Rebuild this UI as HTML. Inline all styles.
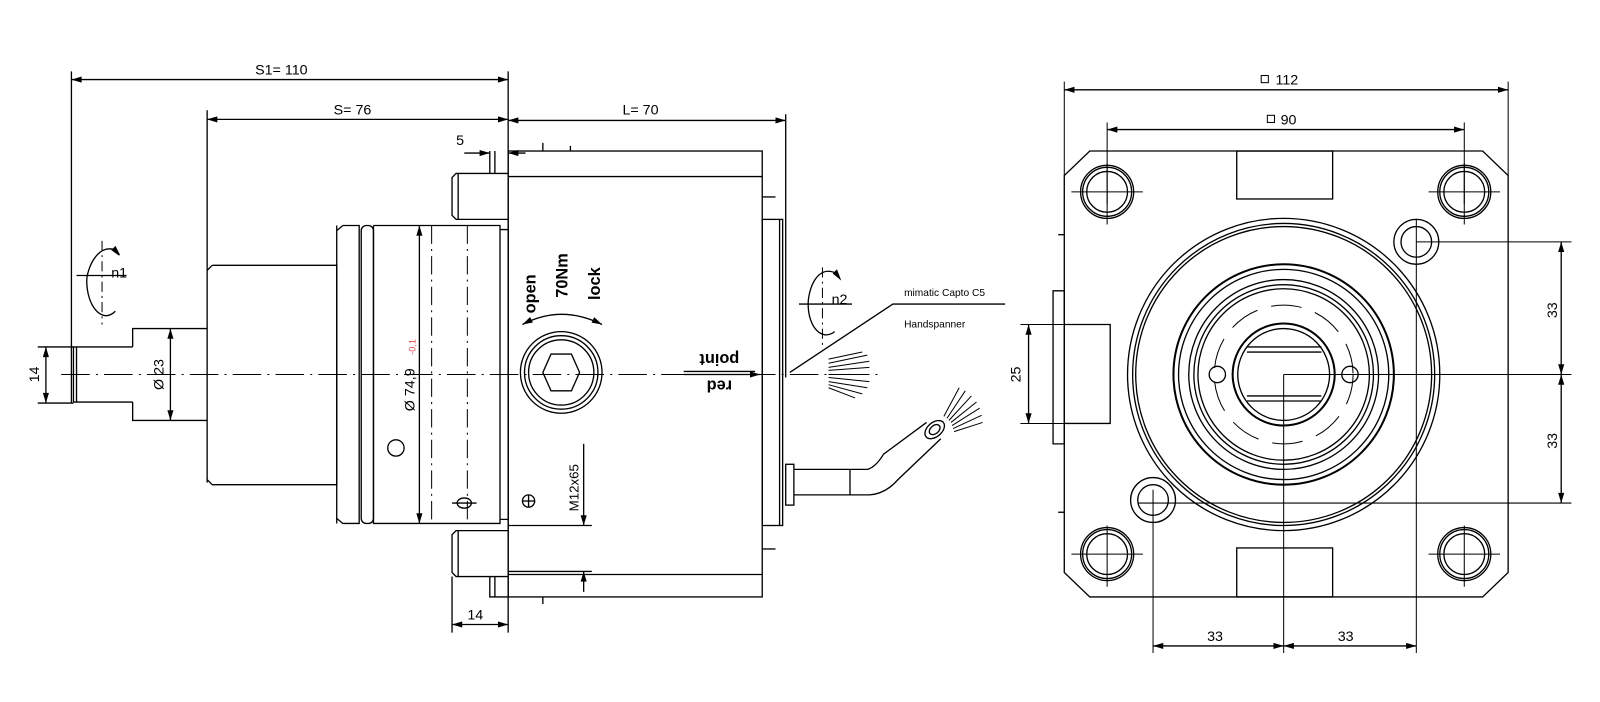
<!DOCTYPE html>
<html><head><meta charset="utf-8"><style>
html,body{margin:0;padding:0;background:#fff;width:1600px;height:702px;overflow:hidden;}
svg{display:block;position:absolute;left:0;top:0;width:1600px;height:702px;}
text{font-family:"Liberation Sans",sans-serif;fill:#000;}
</style></head><body>
<svg width="1600" height="702" viewBox="0 0 1600 702" preserveAspectRatio="none" xmlns="http://www.w3.org/2000/svg">
<defs>
<marker id="a" viewBox="0 0 10 6" refX="10" refY="3" markerWidth="14" markerHeight="6" markerUnits="userSpaceOnUse" orient="auto-start-reverse"><path d="M0,0L10,3L0,6z" fill="#000"/></marker>
<g id="h" fill="none" stroke="#000" stroke-width="1.3"><circle r="26"/><circle r="24"/><circle r="20"/></g>
</defs>
<g transform="scale(1.0204)">
<g fill="none" stroke="#000" stroke-width="1.3">
<line x1="60" y1="367" x2="860" y2="367" stroke-width="1" stroke-dasharray="28,6,2,6"/>
<line x1="70" y1="70" x2="70" y2="395"/>
<line x1="70" y1="78" x2="498" y2="78" marker-start="url(#a)" marker-end="url(#a)"/>
<line x1="498" y1="70" x2="498" y2="620"/>
<line x1="203" y1="108" x2="203" y2="262"/>
<line x1="203" y1="117" x2="498" y2="117" marker-start="url(#a)" marker-end="url(#a)"/>
<line x1="498" y1="118" x2="770" y2="118" marker-start="url(#a)" marker-end="url(#a)"/>
<line x1="770" y1="112" x2="770" y2="370"/>
<line x1="455" y1="150" x2="480" y2="150" marker-end="url(#a)"/>
<line x1="515" y1="150" x2="498" y2="150" marker-end="url(#a)"/>
<path d="M130,340 H72 V394 H130 M75,340 V394"/>
<path d="M130,340 V322 H203 M130,394 V412 H203"/>
<path d="M203,262 V473 M208,260 H330 V475 H208 L203,470 M203,265 L208,260"/>
<path d="M330,221 V513 M336,221 H352 V513 H336 L330,508 M330,226 L336,221"/>
<rect x="354" y="221" width="12" height="292" rx="5"/>
<path d="M366,221 H490 V513 H366 V221 M490,225 H498 V509 H490"/>
<line x1="423" y1="221" x2="423" y2="513" stroke-width="1" stroke-dasharray="18,5,2,5"/>
<line x1="458" y1="221" x2="458" y2="513" stroke-width="1" stroke-dasharray="18,5,2,5"/>
<line x1="411" y1="221" x2="411" y2="513" marker-start="url(#a)" marker-end="url(#a)"/>
<ellipse cx="455" cy="493" rx="7" ry="5"/><line x1="443" y1="493" x2="467" y2="493"/>
<circle cx="388" cy="439" r="8"/>
<line x1="37" y1="340" x2="72" y2="340"/><line x1="37" y1="395" x2="72" y2="395"/>
<line x1="45" y1="340" x2="45" y2="395" marker-start="url(#a)" marker-end="url(#a)"/>
<line x1="167" y1="322" x2="167" y2="412" marker-start="url(#a)" marker-end="url(#a)"/>
<path d="M113,245 C95,238 85,265 85,275 C85,300 100,318 113,305" />
<line x1="100" y1="236" x2="100" y2="318" stroke-width="1" stroke-dasharray="10,4,2,4"/>
<line x1="75" y1="270" x2="124" y2="270"/>
<path d="M110,245 L117,250 L113,242z" fill="#000"/>
<path d="M498,170 H447 L443,174 V211 L447,215 H498 M449,170 V215"/>
<path d="M498,520 H447 L443,524 V561 L447,565 H498 M449,520 V565"/>
<path d="M480,148 V170 M485,148 V170 M480,565 V585 H498 M485,565 V585"/>
<rect x="498" y="148" width="249" height="437"/>
<line x1="498" y1="173" x2="747" y2="173"/><line x1="498" y1="563" x2="747" y2="563"/>
<line x1="532" y1="140" x2="532" y2="148"/><line x1="559" y1="143" x2="559" y2="148"/>
<line x1="532" y1="585" x2="532" y2="592"/>
<line x1="747" y1="193" x2="760" y2="193"/><line x1="747" y1="538" x2="760" y2="538"/>
<circle cx="550" cy="365" r="40"/><circle cx="550" cy="365" r="36"/><circle cx="550" cy="365" r="32"/>
<path d="M540,347 H560 L568,365 L560,383 H540 L532,365z"/>
<path d="M512,318 Q550,298 590,318" marker-start="url(#a)" marker-end="url(#a)"/>
<line x1="670" y1="367" x2="745" y2="367" marker-end="url(#a)"/>
<line x1="670" y1="364" x2="740" y2="364"/>
<line x1="572" y1="435" x2="572" y2="515" marker-end="url(#a)"/>
<line x1="572" y1="580" x2="572" y2="560" marker-end="url(#a)"/>
<line x1="498" y1="515" x2="580" y2="515"/><line x1="498" y1="560" x2="580" y2="560"/>
<circle cx="518" cy="491" r="6"/><line x1="512" y1="491" x2="524" y2="491"/><line x1="518" y1="485" x2="518" y2="497"/>
<line x1="443" y1="565" x2="443" y2="620"/>
<line x1="443" y1="612" x2="498" y2="612" marker-start="url(#a)" marker-end="url(#a)"/>
<rect x="747" y="215" width="20" height="300"/><line x1="764" y1="215" x2="764" y2="515"/>
<rect x="770" y="455" width="8" height="40"/>
<path d="M778,460 H850 Q858,458 866,445 L908,414 M778,485 H852 Q868,484 880,470 L922,430"/>
<line x1="833" y1="460" x2="833" y2="485"/>
<ellipse cx="916" cy="421" rx="11" ry="7" transform="rotate(-40 916 421)"/>
<ellipse cx="916" cy="421" rx="6" ry="4" transform="rotate(-40 916 421)"/>
<g stroke-width="1"><path d="M925,408 L940,380 M928,410 L946,383 M930,412 L952,388 M932,414 L957,394 M933,417 L960,400 M934,420 L962,407 M935,423 L963,414"/>
<path d="M812,356 L850,348 M812,360 L852,354 M812,363 L852,360 M812,367 L852,367 M812,370 L852,374 M812,374 L850,380 M812,377 L845,386 M812,380 L838,390 M812,352 L845,345"/></g>
<path d="M820,268 C800,258 792,285 792,298 C792,320 805,335 818,325"/>
<line x1="806" y1="262" x2="806" y2="340" stroke-width="1" stroke-dasharray="10,4,2,4"/>
<line x1="783" y1="298" x2="835" y2="298"/>
<path d="M817,268 L823,273 L820,265z" fill="#000"/>
<path d="M774,365 L875,298 H985"/>
<path d="M1068,148 H1453 L1478,172 V561 L1453,585 H1068 L1043,561 V172z"/>
<rect x="1212" y="148" width="94" height="47"/><rect x="1212" y="537" width="94" height="48"/>
<path d="M1043,318 H1088 V415 H1043 M1032,285 H1043 V435 H1032z"/>
<line x1="1037" y1="230" x2="1043" y2="230"/><line x1="1037" y1="502" x2="1043" y2="502"/>
<use href="#h" x="1085" y="188"/><use href="#h" x="1435" y="188"/><use href="#h" x="1085" y="543"/><use href="#h" x="1435" y="543"/>
<g stroke-width="1"><path d="M1050,188 H1120 M1085,160 V220 M1400,188 H1470 M1435,160 V220 M1050,543 H1120 M1085,515 V575 M1400,543 H1470 M1435,515 V575"/></g>
<circle cx="1258" cy="367" r="153"/><circle cx="1258" cy="367" r="148"/><circle cx="1258" cy="367" r="145"/>
<circle cx="1258" cy="367" r="108" stroke-width="2"/><circle cx="1258" cy="367" r="103"/>
<circle cx="1258" cy="367" r="93"/><circle cx="1258" cy="367" r="88"/><circle cx="1258" cy="367" r="84"/>
<circle cx="1258" cy="367" r="68" stroke-width="1" stroke-dasharray="30,14"/>
<circle cx="1258" cy="367" r="50" stroke-width="2"/><circle cx="1258" cy="367" r="45"/>
<path d="M1222,340 H1295 M1222,345 H1295 M1222,388 H1295 M1222,393 H1295"/>
<circle cx="1193" cy="367" r="8"/><circle cx="1323" cy="367" r="8"/>
<circle cx="1388" cy="237" r="22"/><circle cx="1388" cy="237" r="15"/>
<circle cx="1130" cy="490" r="22"/><circle cx="1130" cy="490" r="15"/>
<g stroke-width="1">
<line x1="1085" y1="120" x2="1085" y2="200"/><line x1="1435" y1="120" x2="1435" y2="200"/>
<line x1="1043" y1="80" x2="1043" y2="172"/><line x1="1478" y1="80" x2="1478" y2="172"/>
<line x1="1388" y1="215" x2="1388" y2="640"/><line x1="1130" y1="480" x2="1130" y2="640"/><line x1="1258" y1="367" x2="1258" y2="640"/>
<line x1="1388" y1="237" x2="1540" y2="237"/><line x1="1258" y1="367" x2="1540" y2="367"/><line x1="1115" y1="493" x2="1540" y2="493"/>
<line x1="1000" y1="318" x2="1088" y2="318"/><line x1="1000" y1="415" x2="1088" y2="415"/>
</g>
<line x1="1043" y1="88" x2="1478" y2="88" marker-start="url(#a)" marker-end="url(#a)"/>
<line x1="1085" y1="127" x2="1435" y2="127" marker-start="url(#a)" marker-end="url(#a)"/>
<line x1="1530" y1="237" x2="1530" y2="367" marker-start="url(#a)" marker-end="url(#a)"/>
<line x1="1530" y1="367" x2="1530" y2="493" marker-start="url(#a)" marker-end="url(#a)"/>
<line x1="1130" y1="633" x2="1258" y2="633" marker-start="url(#a)" marker-end="url(#a)"/>
<line x1="1258" y1="633" x2="1388" y2="633" marker-start="url(#a)" marker-end="url(#a)"/>
<line x1="1008" y1="318" x2="1008" y2="415" marker-start="url(#a)" marker-end="url(#a)"/>
<rect x="1236" y="74" width="7" height="7" stroke-width="1"/><rect x="1242" y="113" width="7" height="7" stroke-width="1"/>
</g>
<g font-size="14">
<text x="250" y="73">S1=  110</text>
<text x="327" y="112">S=  76</text>
<text x="610" y="112">L=  70</text>
<text x="447" y="142">5</text>
<text x="458" y="607">14</text>
<text x="1250" y="83">112</text>
<text x="1255" y="122">90</text>
<text x="1183" y="628">33</text>
<text x="1311" y="628">33</text>
<text transform="translate(38,367) rotate(-90)" text-anchor="middle">14</text>
<text transform="translate(160,367) rotate(-90)" text-anchor="middle">Ø 23</text>
<text transform="translate(406,382) rotate(-90)" text-anchor="middle">Ø 74,9</text>
<text transform="translate(407,340) rotate(-90)" text-anchor="middle" font-size="9" style="fill:#e05050">-0,1</text>
<text transform="translate(567,478) rotate(-90)" text-anchor="middle" font-size="13">M12x65</text>
<text transform="translate(1000,367) rotate(-90)" text-anchor="middle">25</text>
<text transform="translate(1526,304) rotate(-90)" text-anchor="middle">33</text>
<text transform="translate(1526,432) rotate(-90)" text-anchor="middle">33</text>
<text x="109" y="272">n1</text>
<text x="815" y="298">n2</text>
<text x="886" y="290" font-size="10">mimatic Capto C5</text>
<text x="886" y="321" font-size="10">Handspanner</text>
<text transform="translate(525,288) rotate(-90)" text-anchor="middle" font-weight="bold" font-size="16">open</text>
<text transform="translate(556,270) rotate(-90)" text-anchor="middle" font-weight="bold" font-size="16">70Nm</text>
<text transform="translate(588,278) rotate(-90)" text-anchor="middle" font-weight="bold" font-size="16">lock</text>
<text transform="translate(705,347) rotate(180)" text-anchor="middle" font-weight="bold" font-size="16">point</text>
<text transform="translate(705,373) rotate(180)" text-anchor="middle" font-weight="bold" font-size="16">red</text>
</g>
</g>
</svg>
</body></html>
